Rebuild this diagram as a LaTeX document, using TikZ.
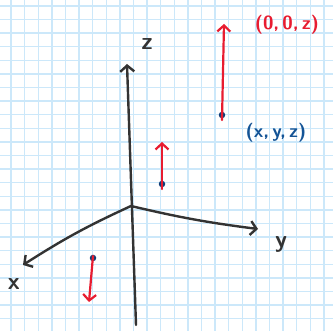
\documentclass[tikz,border=0pt]{standalone}
\usetikzlibrary{arrows.meta}
\definecolor{gridblue}{RGB}{204,232,250}
\definecolor{vecred}{RGB}{232,28,48}
\definecolor{dotblue}{RGB}{16,62,120}
\definecolor{labblue}{RGB}{20,84,150}

\begin{document}
\begin{tikzpicture}[x=1pt, y=-1pt, line cap=round,
  axis/.style={line width=2.4pt, draw=black!80, -{Straight Barb[length=6pt, width=14pt, line width=2.4pt]}},
  move/.style={line width=2.2pt, draw=vecred, -{Straight Barb[length=6pt, width=13pt, line width=2.2pt]}},
  pt/.style={circle, fill=dotblue, inner sep=0pt, minimum size=6.5pt},
  lab/.style={font=\sffamily\bfseries\fontsize{19}{21}\selectfont, inner sep=0pt},
  axlab/.style={font=\sffamily\bfseries\fontsize{24}{26}\selectfont, inner sep=0pt, text=black!80}]
  \useasboundingbox (0,0) rectangle (333,331);
  \fill[white] (0,0) rectangle (333,331);
  % grid paper
  \foreach \i in {0,...,23} {
    \draw[gridblue, line width=1.4pt] ({11+13.6*\i},0) -- ({11+13.6*\i},331);
    \draw[gridblue, line width=1.4pt] (0,{6+13.6*\i}) -- (333,{6+13.6*\i});
  }
  % axes
  \coordinate (O) at (131,206);
  \coordinate (zbot) at (136,325);
  \coordinate (ztip) at (127,64);
  \coordinate (xtip) at (23,265);
  \coordinate (ytip) at (258,229);
  \draw[axis] (zbot) -- (ztip);
  \draw[axis] (O) to[bend right=4] (xtip);
  \draw[axis] (O) to[bend right=3] (ytip);
  \node[axlab] (zlab) at (147,44) {z};
  \node[axlab] (xlab) at (14,284) {x};
  \node[axlab] (ylab) at (281,244) {y};
  % points and moves
  \node[pt] (P) at (222,115) {};
  \node[pt] (M) at (162,184) {};
  \node[pt] (B) at (93,258) {};
  \coordinate (Ptip) at (224,24);
  \coordinate (Mtip) at (162,142);
  \coordinate (Btip) at (89,302);
  \draw[move] ([yshift=-5pt]P.center) -- (Ptip);
  \draw[move] ([yshift=-5pt]M.center) -- (Mtip);
  \draw[move] ([yshift=2pt]B.center) -- (Btip);
  \node[lab, text=vecred] (Plab0) at (287,25) {(0,\,0,\,z)};
  \node[lab, text=labblue] (Plab) at (276,133) {(x,\,y,\,z)};
\end{tikzpicture}
\end{document}
